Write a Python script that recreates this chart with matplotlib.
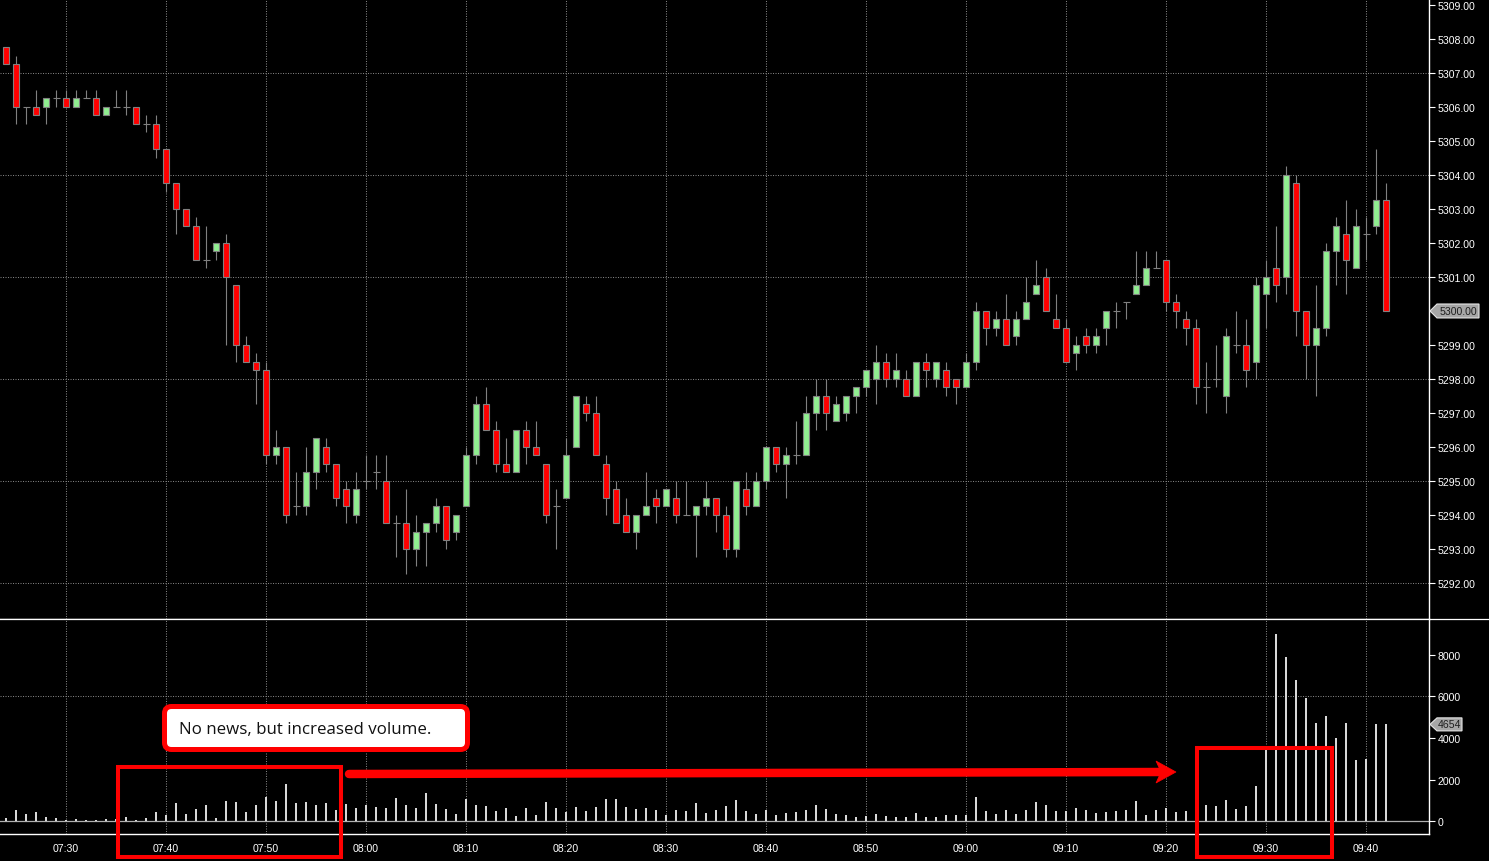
import matplotlib
matplotlib.use("Agg")
import matplotlib.pyplot as plt
from matplotlib.patches import FancyBboxPatch, Rectangle, Polygon
from matplotlib.transforms import blended_transform_factory
import numpy as np

# ---------------- data (1-minute bars starting 07:24) ----------------
opens = [5307.75, 5307.25, 5306.0, 5306.0, 5306.0, 5306.25, 5306.25, 5306.0, 5306.25, 5306.25,
         5305.75, 5306.0, 5306.0, 5306.0, 5305.5, 5305.5, 5304.75, 5303.75, 5303.0, 5302.5,
         5301.5, 5301.75, 5302.0, 5300.75, 5299.0, 5298.5, 5298.25, 5295.75, 5296.0, 5294.25,
         5294.25, 5295.25, 5296.0, 5295.5, 5294.75, 5294.0, 5295.0, 5295.25, 5295.0, 5293.75,
         5293.75, 5293.0, 5293.5, 5293.75, 5294.25, 5293.5, 5294.25, 5295.75, 5297.25, 5296.5,
         5295.5, 5295.25, 5296.5, 5296.0, 5295.5, 5294.25, 5294.5, 5296.0, 5297.25, 5297.0,
         5295.5, 5294.75, 5294.0, 5293.5, 5294.0, 5294.5, 5294.25, 5294.5, 5294.0, 5294.0,
         5294.25, 5294.5, 5294.0, 5293.0, 5294.75, 5294.25, 5295.0, 5296.0, 5295.5, 5295.75,
         5295.75, 5297.0, 5297.5, 5296.75, 5297.0, 5297.5, 5297.75, 5298.0, 5298.5, 5298.0,
         5298.0, 5297.5, 5298.5, 5298.0, 5298.25, 5298.0, 5297.75, 5298.5, 5300.0, 5299.5,
         5299.75, 5299.25, 5299.75, 5300.5, 5301.0, 5299.75, 5299.5, 5298.75, 5299.25, 5299.0,
         5299.5, 5300.0, 5300.25, 5300.5, 5300.75, 5301.25, 5301.5, 5300.25, 5299.75, 5299.5,
         5297.75, 5298.0, 5297.5, 5299.0, 5299.0, 5298.5, 5300.5, 5301.25, 5301.0, 5303.75,
         5300.0, 5299.0, 5299.5, 5301.75, 5302.25, 5301.25, 5302.25, 5302.5, 5303.25]
highs = [5307.75, 5307.5, 5306.0, 5306.5, 5306.25, 5306.5, 5306.5, 5306.5, 5306.5, 5306.5,
         5306.0, 5306.5, 5306.5, 5306.0, 5305.75, 5305.75, 5304.75, 5303.75, 5303.0, 5302.75,
         5302.5, 5302.0, 5302.25, 5300.75, 5299.25, 5298.75, 5298.5, 5296.5, 5296.0, 5295.25,
         5296.0, 5296.25, 5296.25, 5295.5, 5295.0, 5295.25, 5295.75, 5295.75, 5295.75, 5294.0,
         5294.75, 5294.0, 5293.75, 5294.5, 5294.25, 5294.0, 5296.0, 5297.5, 5297.75, 5296.75,
         5296.25, 5296.5, 5296.75, 5296.75, 5295.5, 5294.75, 5296.25, 5297.5, 5297.5, 5297.5,
         5295.75, 5295.0, 5294.5, 5294.0, 5295.25, 5294.75, 5294.75, 5295.0, 5295.0, 5294.25,
         5295.0, 5294.5, 5294.25, 5295.0, 5295.25, 5295.25, 5296.0, 5296.0, 5296.0, 5296.75,
         5297.5, 5298.0, 5298.0, 5297.5, 5297.5, 5297.75, 5298.25, 5299.0, 5298.75, 5298.75,
         5298.25, 5298.5, 5298.75, 5298.5, 5298.5, 5298.0, 5298.75, 5300.25, 5300.0, 5300.0,
         5300.5, 5300.0, 5301.0, 5301.5, 5301.25, 5300.5, 5299.75, 5299.25, 5299.5, 5299.5,
         5300.0, 5300.25, 5300.25, 5301.75, 5301.75, 5301.75, 5301.5, 5300.5, 5300.0, 5299.75,
         5298.5, 5299.0, 5299.5, 5300.0, 5299.75, 5301.0, 5301.5, 5302.5, 5304.25, 5304.0,
         5300.0, 5300.75, 5302.0, 5302.75, 5303.25, 5303.0, 5302.75, 5304.75, 5303.75]
lows = [5307.25, 5305.5, 5305.5, 5305.75, 5305.5, 5306.0, 5306.0, 5306.0, 5306.25, 5305.75,
        5305.75, 5306.0, 5305.75, 5305.5, 5305.25, 5304.5, 5303.5, 5302.25, 5302.5, 5301.5,
        5301.25, 5301.5, 5299.0, 5298.5, 5298.5, 5297.25, 5295.5, 5295.5, 5293.75, 5294.0,
        5294.0, 5294.75, 5295.25, 5294.25, 5293.75, 5293.75, 5294.75, 5294.75, 5293.75, 5292.75,
        5292.25, 5292.5, 5292.5, 5293.5, 5293.0, 5293.25, 5294.25, 5295.5, 5296.5, 5295.25,
        5295.25, 5295.25, 5295.5, 5295.75, 5293.75, 5293.0, 5294.5, 5296.0, 5296.75, 5295.75,
        5294.0, 5293.75, 5293.5, 5293.0, 5294.0, 5293.75, 5294.25, 5293.75, 5294.0, 5292.75,
        5294.0, 5293.5, 5292.75, 5292.75, 5294.0, 5294.25, 5294.75, 5295.25, 5294.5, 5295.5,
        5295.75, 5296.5, 5296.5, 5296.75, 5296.75, 5297.0, 5297.5, 5297.25, 5297.75, 5297.75,
        5297.5, 5297.5, 5297.75, 5297.75, 5297.5, 5297.25, 5297.75, 5298.25, 5299.0, 5299.25,
        5299.0, 5299.0, 5299.75, 5300.5, 5300.0, 5299.5, 5298.5, 5298.25, 5298.75, 5298.75,
        5299.0, 5299.5, 5299.75, 5300.5, 5300.75, 5301.25, 5300.0, 5299.5, 5299.0, 5297.25,
        5297.0, 5297.75, 5297.0, 5298.75, 5297.75, 5298.0, 5299.5, 5300.25, 5300.5, 5299.25,
        5298.0, 5297.5, 5299.25, 5300.75, 5300.5, 5301.25, 5301.5, 5302.25, 5300.0]
closes = [5307.25, 5306.0, 5306.0, 5305.75, 5306.25, 5306.25, 5306.0, 5306.25, 5306.25, 5305.75,
          5306.0, 5306.0, 5306.0, 5305.5, 5305.5, 5304.75, 5303.75, 5303.0, 5302.5, 5301.5,
          5301.5, 5302.0, 5301.0, 5299.0, 5298.5, 5298.25, 5295.75, 5296.0, 5294.0, 5294.25,
          5295.25, 5296.25, 5295.5, 5294.5, 5294.25, 5294.75, 5295.0, 5295.25, 5293.75, 5293.75,
          5293.0, 5293.5, 5293.75, 5294.25, 5293.25, 5294.0, 5295.75, 5297.25, 5296.5, 5295.5,
          5295.25, 5296.5, 5296.0, 5295.75, 5294.0, 5294.25, 5295.75, 5297.5, 5297.0, 5295.75,
          5294.5, 5293.75, 5293.5, 5294.0, 5294.25, 5294.25, 5294.75, 5294.0, 5294.0, 5294.25,
          5294.5, 5294.0, 5293.0, 5295.0, 5294.25, 5295.0, 5296.0, 5295.5, 5295.75, 5295.75,
          5297.0, 5297.5, 5297.0, 5297.25, 5297.5, 5297.75, 5298.25, 5298.5, 5298.0, 5298.25,
          5297.5, 5298.5, 5298.25, 5298.5, 5297.75, 5297.75, 5298.5, 5300.0, 5299.5, 5299.75,
          5299.0, 5299.75, 5300.25, 5300.75, 5300.0, 5299.5, 5298.5, 5299.0, 5299.0, 5299.25,
          5300.0, 5300.0, 5300.25, 5300.75, 5301.25, 5301.25, 5300.25, 5300.0, 5299.5, 5297.75,
          5297.75, 5298.0, 5299.25, 5299.0, 5298.25, 5300.75, 5301.0, 5300.75, 5304.0, 5300.0,
          5299.0, 5299.5, 5301.75, 5302.5, 5301.5, 5302.5, 5302.25, 5303.25, 5300.0]
volumes = [160, 545, 350, 450, 210, 160, 65, 110, 65, 65,
           110, 110, 210, 65, 160, 450, 305, 880, 350, 595,
           785, 160, 980, 930, 450, 785, 1170, 980, 1795, 880,
           930, 785, 880, 545, 835, 640, 785, 690, 640, 1120,
           785, 640, 1365, 835, 595, 350, 1075, 785, 735, 495,
           640, 255, 640, 305, 930, 640, 450, 690, 495, 690,
           1075, 1075, 690, 595, 640, 545, 305, 545, 495, 880,
           400, 545, 735, 1025, 495, 350, 545, 305, 400, 450,
           545, 785, 595, 350, 305, 210, 255, 350, 255, 210,
           210, 400, 210, 210, 305, 305, 305, 1170, 495, 350,
           545, 350, 545, 930, 785, 495, 495, 640, 545, 400,
           450, 495, 545, 980, 305, 545, 640, 450, 495, 500,
           785, 735, 1025, 595, 735, 1700, 3480, 8975, 7900, 6800,
           5930, 4730, 5065, 4010, 4730, 2950, 3000, 4680, 4654]

start_minute = 7 * 60 + 24           # first bar 07:24
time_ticks = ["07:30", "07:40", "07:50", "08:00", "08:10", "08:20", "08:30",
              "08:40", "08:50", "09:00", "09:10", "09:20", "09:30", "09:40"]
price_ticks = [5292 + k for k in range(18)]
price_grid = [5292, 5295, 5298, 5301, 5304, 5307]
vol_ticks = [0, 2000, 4000, 6000, 8000]
vol_grid = [6000]
note_text = "No news, but increased volume."

# ---------------- figure ----------------
W, H = 1489, 862
fig = plt.figure(figsize=(W / 100, H / 100), dpi=100, facecolor="black")
AX_R = 1429
P_TOP, P_BOT = 0, 620
V_TOP, V_BOT = 620, 835
ax = fig.add_axes([0, 1 - P_BOT / H, AX_R / W, (P_BOT - P_TOP) / H], facecolor="black")
axv = fig.add_axes([0, 1 - V_BOT / H, AX_R / W, (V_BOT - V_TOP) / H], facecolor="black", sharex=ax)

TICK_FONT = "Liberation Sans"
GRID_KW = dict(color="#7f7f7f", lw=0.75, ls=(0, (1, 1.4)), zorder=1)

x = np.arange(len(opens))
o, h, l, c = (np.array(v, dtype=float) for v in (opens, highs, lows, closes))
vol = np.array(volumes, dtype=float)

def tick_pos(lbl):
    hh, mm = lbl.split(":")
    return int(hh) * 60 + int(mm) - start_minute

xt = [tick_pos(t) for t in time_ticks]

ax.set_xlim(-0.6, 142.3)
ax.set_ylim(5290.94, 5309.176)
axv.set_ylim(-610, 9714)

for a in (ax, axv):
    for s in ("left", "top"):
        a.spines[s].set_visible(False)
    a.spines["right"].set_color("white")
    a.spines["bottom"].set_color("white")
    a.spines["right"].set_linewidth(1)
    a.spines["bottom"].set_linewidth(1)
    for xv in xt:
        a.axvline(xv, **GRID_KW)
for yv in price_grid:
    ax.axhline(yv, **GRID_KW)
for yv in vol_grid:
    axv.axhline(yv, **GRID_KW)

# candles
up = c > o
dn = c < o
fl = c == o
ax.vlines(x, l, h, color="#808080", lw=0.8, zorder=2)
ax.bar(x[up], (c - o)[up], bottom=o[up], width=0.56, color="#90ee90",
       edgecolor="#808080", lw=0.8, zorder=3)
ax.bar(x[dn], (o - c)[dn], bottom=c[dn], width=0.56, color="#ff0000",
       edgecolor="#808080", lw=0.8, zorder=3)
ax.hlines(o[fl], x[fl] - 0.35, x[fl] + 0.35, color="#808080", lw=0.8, zorder=3)

# volume
axv.axhline(0, color="#b0b0b0", lw=0.9, zorder=2)
axv.bar(x, vol, width=0.22, color="#d8d8d8", lw=0, zorder=3)

# ticks
ax.yaxis.tick_right()
ax.set_yticks(price_ticks)
ax.set_yticklabels(["" if p == closes[-1] else f"{p:.2f}" for p in price_ticks])
axv.yaxis.tick_right()
axv.set_yticks(vol_ticks)
axv.set_yticklabels([str(v) for v in vol_ticks])
for a in (ax, axv):
    a.tick_params(axis="y", direction="out", length=4.5, width=0.8, color="white",
                  labelcolor="white", labelsize=7.6, pad=1.6)
    for t in a.get_yticklabels():
        t.set_fontfamily(TICK_FONT)
ax.tick_params(axis="x", bottom=False, labelbottom=False)
axv.set_xticks(xt)
axv.set_xticklabels(time_ticks)
axv.tick_params(axis="x", length=0, labelcolor="white", labelsize=7.6, pad=6.5)
for t in axv.get_xticklabels():
    t.set_fontfamily(TICK_FONT)

# last value tags
def tag(a, yval, half, txt, right_px):
    tr = blended_transform_factory(a.transAxes, a.transData)
    f = lambda px: px / AX_R
    pts = [(f(1430), yval), (f(1437), yval + half), (f(right_px), yval + half),
           (f(right_px), yval - half), (f(1437), yval - half)]
    a.add_patch(Polygon(pts, closed=True, transform=tr, clip_on=False,
                        fc="#a6a6a6", ec="#e6e6e6", lw=0.8, zorder=6))
    a.text(f((1437 + right_px) / 2), yval, txt, transform=tr, ha="center", va="center",
           fontsize=7.6, family=TICK_FONT, color="#1e1e1e", zorder=7, clip_on=False)

tag(ax, closes[-1], 0.205, f"{closes[-1]:.2f}", 1479)
tag(axv, volumes[-1], 312, str(volumes[-1]), 1462)

# ---------------- annotations (pixel overlay) ----------------
ov = fig.add_axes([0, 0, 1, 1], facecolor="none")
ov.set_xlim(0, W)
ov.set_ylim(H, 0)
ov.axis("off")
ov.set_zorder(10)

RED = "#ff0000"
ov.add_patch(FancyBboxPatch((164.5, 707.5), 303, 43, boxstyle="round,pad=0,rounding_size=7",
                            fc="white", ec=RED, lw=3.6))
ov.text(179, 730, note_text, ha="left", va="center", fontsize=12.2,
        family="Open Sans", color="#111111")
ov.add_patch(Rectangle((117.7, 767.7), 223.6, 90.3, fill=False, ec=RED, lw=2.9))
ov.add_patch(Rectangle((1197, 748.7), 135, 109.3, fill=False, ec=RED, lw=2.9))
ov.plot([349, 1161], [775, 773], color=RED, lw=6.1, solid_capstyle="round")
ov.add_patch(Polygon([(1156, 762), (1176, 773), (1156, 784), (1161, 773)],
                     closed=True, fc=RED, ec=RED, lw=0.5))
# full-width separator between panels
ov.plot([0, W], [620, 620], color="white", lw=0.9)

fig.savefig("out.png", dpi=100, facecolor="black")
